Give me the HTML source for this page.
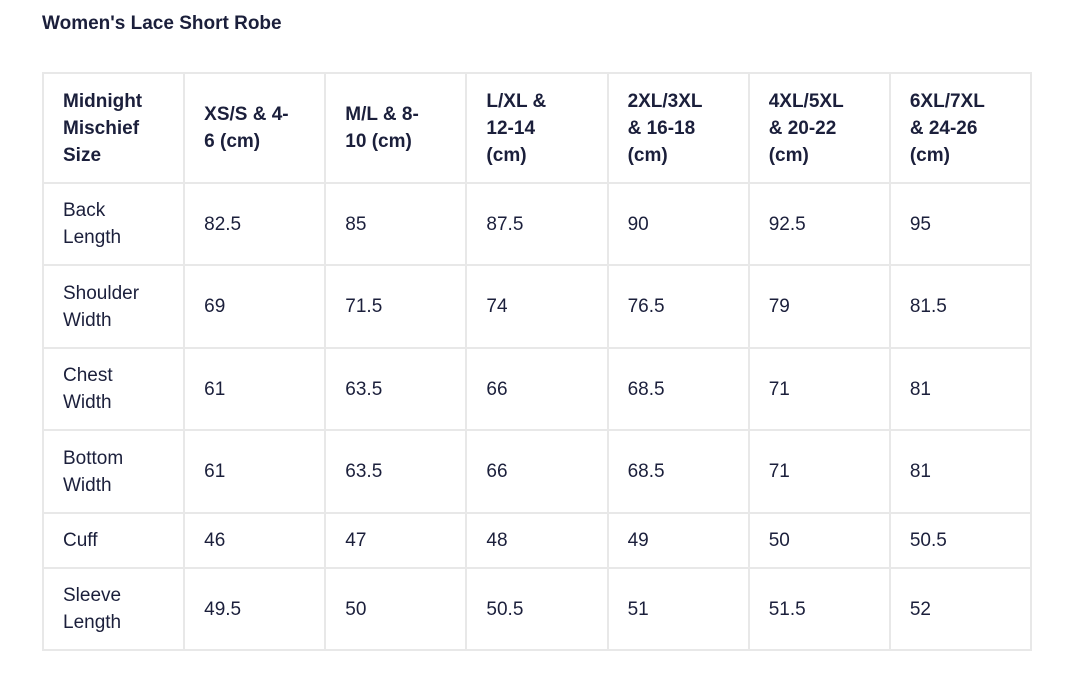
<!DOCTYPE html>
<html><head><meta charset="utf-8"><style>
body{margin:0;width:1080px;height:677px;background:#fff;font-family:"Liberation Sans",sans-serif;color:#1b1f3b;position:relative;overflow:hidden}
.t{position:absolute;left:42px;top:13px;font-size:19px;font-weight:bold}
table{position:absolute;left:42px;top:72px;border-collapse:collapse;table-layout:fixed;width:990px}
td{border:2px solid #e8e8e8;padding:0 0 0 19px;font-size:19px;line-height:27px;vertical-align:middle;width:141px;box-sizing:border-box;white-space:nowrap}
tr.h td{font-weight:bold;height:110px}
</style></head><body>
<div class="t">Women's Lace Short Robe</div>
<table>
<tr class="h"><td>Midnight<br>Mischief<br>Size</td><td>XS/S &amp; 4-<br>6 (cm)</td><td>M/L &amp; 8-<br>10 (cm)</td><td>L/XL &amp;<br>12-14<br>(cm)</td><td>2XL/3XL<br>&amp; 16-18<br>(cm)</td><td>4XL/5XL<br>&amp; 20-22<br>(cm)</td><td>6XL/7XL<br>&amp; 24-26<br>(cm)</td></tr>
<tr style="height:82px"><td>Back<br>Length</td><td>82.5</td><td>85</td><td>87.5</td><td>90</td><td>92.5</td><td>95</td></tr>
<tr style="height:83px"><td>Shoulder<br>Width</td><td>69</td><td>71.5</td><td>74</td><td>76.5</td><td>79</td><td>81.5</td></tr>
<tr style="height:82px"><td>Chest<br>Width</td><td>61</td><td>63.5</td><td>66</td><td>68.5</td><td>71</td><td>81</td></tr>
<tr style="height:83px"><td>Bottom<br>Width</td><td>61</td><td>63.5</td><td>66</td><td>68.5</td><td>71</td><td>81</td></tr>
<tr style="height:55px"><td>Cuff</td><td>46</td><td>47</td><td>48</td><td>49</td><td>50</td><td>50.5</td></tr>
<tr style="height:82px"><td>Sleeve<br>Length</td><td>49.5</td><td>50</td><td>50.5</td><td>51</td><td>51.5</td><td>52</td></tr>
</table>
</body></html>
